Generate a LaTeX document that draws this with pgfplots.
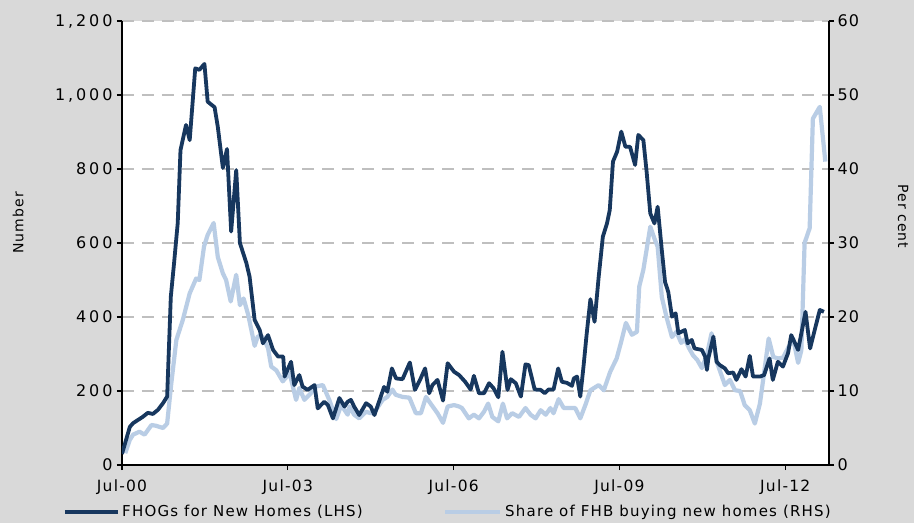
\documentclass[border=0pt]{standalone}
\usepackage{pgfplots}
\pgfplotsset{compat=1.18}
\usepackage{fontspec}
\setmainfont{DejaVu Sans}[LetterSpace=8]
\newfontfamily\tickfont{DejaVu Sans}[LetterSpace=18]
\newfontfamily\datefont{DejaVu Sans}[LetterSpace=8]

\definecolor{bg}{HTML}{D9D9D9}
\definecolor{fhog}{HTML}{17375E}
\definecolor{share}{HTML}{B9CDE5}
\definecolor{gridc}{HTML}{BFBFBF}

\pgfplotsset{
    both/.style={
        at={(0pt,0pt)}, anchor=south west,
        scale only axis, width=707pt, height=444pt,
        xmin=0, xmax=153.5,
        axis line style={black, line width=1.5pt, -},
        tick align=outside, major tick length=5pt,
        tick style={black, line width=1.2pt},
        tick label style={font=\tickfont\fontsize{16}{19}\selectfont},
    },
}

\begin{document}
\begin{tikzpicture}
    % grey page, in picture pixels from the bottom left corner
    \begin{scope}[shift={(-122pt,-58pt)}]
        \fill[bg] (0pt,0pt) rectangle (914pt,523pt);
    \end{scope}
    % right axis first, so that the grid and the pale line sit under the dark one
    \begin{axis}[both,
        ymin=0, ymax=60,
        axis x line=none, axis y line*=right,
        axis background/.style={fill=white},
        ytick={0,10,...,60}, yticklabels={0,10,20,30,40,50,60},
        yticklabel style={font=\datefont\fontsize{16}{19}\selectfont},
        ymajorgrids,
        major grid style={gridc, line width=1.8pt, dash pattern=on 12pt off 8pt},
        ylabel={Per cent},
        ylabel style={at={(axis description cs:1.105,0.56)}, anchor=center,
            rotate=180, font=\fontsize{14}{17}\selectfont},
    ]
        \addplot[share, line width=4.2pt, line join=round] coordinates {
            (0.7,1.6) (1.7,3.4) (2.4,4.1) (3.8,4.5) (4.9,4.1) (6.4,5.4)
            (7.4,5.3) (8.9,5.0) (9.8,5.6) (10.7,11.0) (11.8,16.9) (13.2,19.6)
            (14.7,23.2) (16.1,25.2) (16.8,25.0) (17.8,29.5) (18.6,31.1)
            (19.9,32.7) (20.8,28.1) (21.9,25.9) (22.6,25.0) (23.6,22.1)
            (24.8,25.7) (25.6,21.6) (26.4,22.5) (27.4,20.3) (28.8,16.1)
            (29.5,17.4) (30.6,17.3) (31.7,15.8) (32.4,13.3) (33.5,12.8)
            (34.9,11.3) (36.4,12.4) (37.8,8.8) (38.5,10.4) (39.6,8.8)
            (41.0,9.7) (42.1,10.6) (43.6,10.8) (45.0,8.8) (46.5,6.2)
            (47.6,8.1) (49.0,6.8) (49.4,7.9) (50.4,6.8) (51.5,6.3)
            (53.0,7.2) (54.0,7.0) (55.1,7.4) (56.6,8.8) (57.6,9.2)
            (58.7,10.2) (59.4,9.5) (60.9,9.2) (62.4,9.1) (63.8,7.0)
            (64.9,7.0) (66.0,9.2) (67.0,8.3) (68.5,7.0) (69.7,5.7)
            (70.7,7.9) (72.1,8.1) (73.2,7.9) (73.8,7.7) (75.3,6.3)
            (76.4,6.8) (77.5,6.3) (78.6,7.2) (79.5,8.3) (80.4,6.5)
            (81.7,5.9) (82.7,8.3) (83.6,6.3) (84.7,7.0) (86.2,6.5)
            (87.6,7.7) (88.7,6.8) (89.8,6.3) (90.9,7.4) (92.0,6.8)
            (93.0,7.7) (93.7,7.0) (94.8,8.9) (95.9,7.7) (97.0,7.7)
            (98.4,7.7) (99.5,6.3) (100.6,8.1) (101.7,10.1) (103.5,10.8)
            (104.6,10.1) (106.0,12.6) (107.4,14.4) (108.4,16.7) (109.4,19.2)
            (110.7,17.6) (111.8,18.0) (112.3,24.1) (113.2,26.4) (114.7,32.2)
            (115.6,30.6) (116.3,29.5) (117.2,22.7) (118.3,19.8) (119.4,17.3)
            (120.4,18.0) (121.4,16.5) (122.2,17.0) (123.1,15.8) (124.0,14.8)
            (124.9,14.2) (125.9,13.1) (127.0,14.9) (128.0,17.8) (129.1,14.0)
            (130.9,10.8) (132.0,11.5) (133.1,10.1) (134.2,10.0) (135.2,8.1)
            (136.3,7.4) (137.4,5.6) (138.5,8.3) (139.4,12.4) (140.4,17.1)
            (141.4,14.6) (142.4,14.4) (143.5,14.5) (144.6,15.8) (145.7,17.1)
            (146.8,13.8) (147.5,15.5) (148.2,30.0) (149.3,32.0) (150.0,46.8)
            (151.5,48.4) (152.7,41.0)};
    \end{axis}
    % left axis: number of grants
    \begin{axis}[both,
        ymin=0, ymax=1200,
        axis x line*=bottom, axis y line*=left,
        xtick={0,36,72,108,144},
        xticklabels={Jul-00,Jul-03,Jul-06,Jul-09,Jul-12},
        ytick={0,200,...,1200},
        yticklabels={0,200,400,600,800,{1,000},{1,200}},
        xticklabel style={yshift=-6pt, font=\datefont\fontsize{15.5}{18}\selectfont},
        yticklabel style={xshift=-1pt},
        ylabel={Number},
        ylabel style={at={(axis description cs:-0.147,0.545)}, anchor=center,
            font=\fontsize{14}{17}\selectfont},
    ]
        \addplot[fhog, line width=3.8pt, line join=round] coordinates {
            (0.0,30) (1.7,103) (2.4,113) (3.5,122) (4.5,130) (5.6,141)
            (6.7,138) (7.8,149) (8.9,167) (9.8,185) (10.6,455) (11.3,545)
            (12.1,654) (12.7,851) (13.9,919) (14.7,878) (15.9,1072)
            (16.8,1068) (17.9,1084) (18.6,982) (20.1,967) (20.8,914)
            (21.9,803) (22.8,854) (23.7,631) (24.8,797) (25.6,600)
            (27.0,546) (27.7,509) (28.8,392) (29.9,365) (30.6,329)
            (31.7,351) (32.8,311) (33.9,293) (35.0,293) (35.3,239)
            (36.7,279) (37.4,216) (38.5,243) (39.2,212) (40.3,203)
            (41.8,216) (42.5,153) (43.9,171) (44.7,162) (45.8,126)
            (47.2,181) (48.3,158) (49.0,171) (49.7,176) (50.4,158)
            (51.5,135) (53.0,167) (54.0,158) (54.8,135) (55.8,171)
            (56.9,211) (57.6,198) (58.6,261) (59.5,234) (60.9,232)
            (62.5,277) (63.6,203) (64.7,230) (65.8,261) (66.7,194)
            (67.4,216) (68.5,230) (69.7,174) (70.7,275) (72.1,252)
            (73.2,243) (74.5,225) (75.7,204) (76.4,241) (77.5,194)
            (78.6,194) (79.7,221) (80.7,207) (81.7,183) (82.6,306)
            (83.7,203) (84.4,232) (85.5,221) (86.6,185) (87.6,272)
            (88.3,270) (89.6,204) (90.9,203) (91.8,194) (92.6,204)
            (93.7,204) (94.7,261) (95.5,225) (96.6,222) (97.7,214)
            (98.1,234) (98.8,239) (99.5,185) (100.2,266) (100.9,356)
            (101.7,448) (102.6,387) (103.5,509) (104.4,617) (105.3,653)
            (105.9,689) (106.6,820) (107.5,847) (108.4,901) (109.3,860)
            (110.3,860) (111.4,811) (112.1,892) (113.2,878) (113.9,793)
            (114.7,680) (115.6,653) (116.3,698) (117.2,581) (117.9,495)
            (118.6,468) (119.4,401) (120.2,410) (120.8,356) (122.2,365)
            (122.8,329) (123.7,338) (124.3,315) (125.9,311) (126.6,293)
            (127.0,257) (127.3,288) (128.4,347) (129.1,279) (129.8,270)
            (130.9,261) (131.6,248) (132.7,250) (133.4,230) (134.5,259)
            (135.4,239) (136.3,295) (137.0,239) (138.5,239) (139.4,243)
            (140.6,288) (141.3,230) (142.4,279) (143.5,266) (144.6,302)
            (145.3,351) (146.8,311) (148.4,414) (149.4,315) (150.4,365)
            (151.5,419) (152.4,414)};
    \end{axis}
    % legend, in picture pixels from the bottom left corner
    \begin{scope}[shift={(-122pt,-58pt)}]
        \draw[fhog, line width=4pt] (65pt,11pt) -- (118pt,11pt);
        \node[anchor=west, inner sep=0pt, font=\fontsize{15}{18}\selectfont]
            at (122pt,11pt) {FHOGs for New Homes (LHS)};
        \draw[share, line width=4pt] (445pt,11pt) -- (500pt,11pt);
        \node[anchor=west, inner sep=0pt, font=\fontsize{15}{18}\selectfont]
            at (505pt,11pt) {Share of FHB buying new homes (RHS)};
    \end{scope}
\end{tikzpicture}
\end{document}
